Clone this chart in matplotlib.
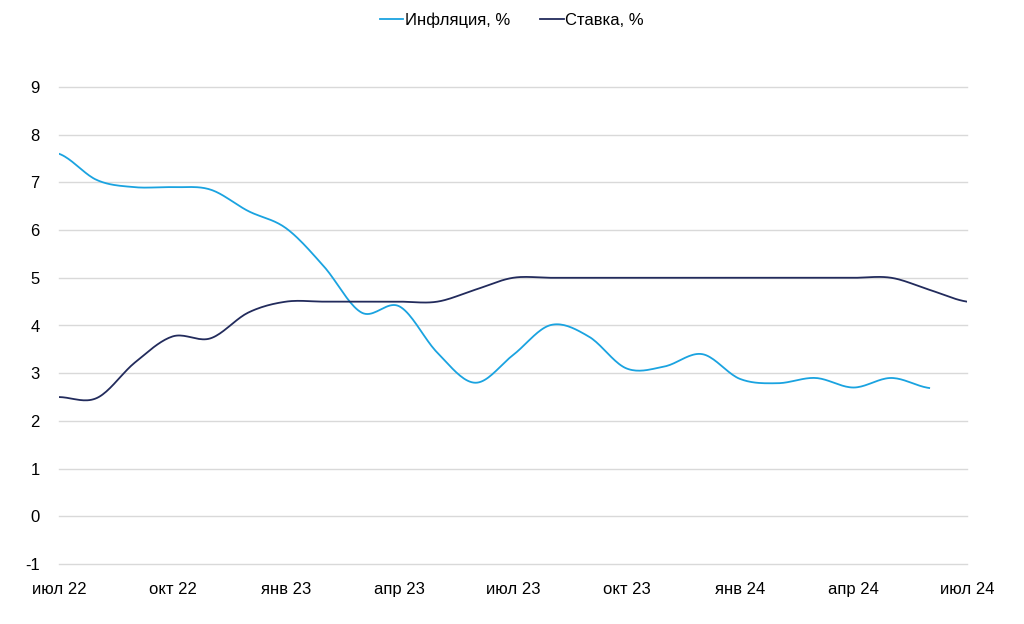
import numpy as np
import matplotlib.pyplot as plt

plt.rcParams['font.family'] = ['Liberation Sans', 'DejaVu Sans']
plt.rcParams['axes.unicode_minus'] = False

# monthly data, Jul 2022 .. Jul 2024
tick_labels = ["июл 22", "окт 22", "янв 23", "апр 23", "июл 23",
               "окт 23", "янв 24", "апр 24", "июл 24"]
inflation = [7.6, 7.05, 6.9, 6.9, 6.85, 6.4, 6.04, 5.24, 4.27, 4.4, 3.43, 2.8,
             3.38, 4.01, 3.77, 3.1, 3.14, 3.4, 2.88, 2.79, 2.9, 2.7, 2.9, 2.69]
rate = [2.5, 2.48, 3.22, 3.77, 3.73, 4.27, 4.5, 4.5, 4.5, 4.5, 4.5, 4.75,
        5.0, 5.0, 5.0, 5.0, 5.0, 5.0, 5.0, 5.0, 5.0, 5.0, 5.0, 4.75, 4.5]


def smooth(y, n=20):
    # Catmull-Rom style curve through the points (like "smoothed line" in Excel)
    y = np.asarray(y, dtype=float)
    x = np.arange(len(y))
    xs, ys = [], []
    for i in range(len(y) - 1):
        p0 = y[i - 1] if i > 0 else y[i]
        p3 = y[i + 2] if i + 2 < len(y) else y[i + 1]
        p1, p2 = y[i], y[i + 1]
        t = np.linspace(0, 1, n, endpoint=False)
        c1 = p1 + (p2 - p0) / 6
        c2 = p2 - (p3 - p1) / 6
        yy = (1 - t) ** 3 * p1 + 3 * (1 - t) ** 2 * t * c1 + 3 * (1 - t) * t ** 2 * c2 + t ** 3 * p2
        xs.extend(x[i] + t)
        ys.extend(yy)
    xs.append(x[-1])
    ys.append(y[-1])
    return np.array(xs), np.array(ys)


fig = plt.figure(figsize=(10.24, 6.24), dpi=100)
ax = fig.add_axes([59 / 1024, 1 - 564 / 624, (967 - 59) / 1024, (564 - 87) / 624])

xi, yi = smooth(inflation)
xr, yr = smooth(rate)
ax.plot(xi, yi, color="#1aa3e0", lw=1.3, label="Инфляция, %")
ax.plot(xr, yr, color="#222b5c", lw=1.3, label="Ставка, %")

ax.set_xlim(0, 24)
ax.set_ylim(-1, 9)
ax.set_yticks(range(-1, 10))
ax.set_xticks(range(0, 25, 3))
ax.set_xticklabels(tick_labels)
ax.tick_params(length=0, labelsize=12, colors="black")
ax.tick_params(axis="x", pad=13)
ax.tick_params(axis="y", pad=14)
ax.grid(axis="y", color="#d9d9d9", lw=1)
for gl in ax.get_ygridlines():
    gl.set_clip_on(False)
ax.set_axisbelow(True)
for s in ax.spines.values():
    s.set_visible(False)

fig.legend(loc="center", bbox_to_anchor=(0.5, 1 - 20 / 624), ncol=2, frameon=False,
           fontsize=12, handlelength=1.4, handletextpad=0.1, columnspacing=1.8)

fig.savefig("out.png", dpi=100)
